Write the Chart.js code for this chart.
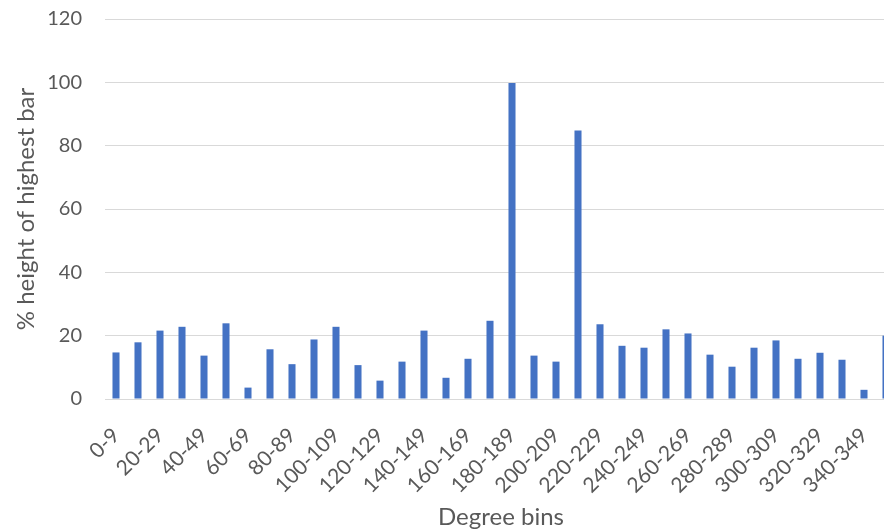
<!DOCTYPE html>
<html>
<head>
<meta charset="utf-8">
<script src="https://cdn.jsdelivr.net/npm/chart.js@4/dist/chart.umd.min.js"></script>
<style>
  html, body { margin: 0; padding: 0; overflow: hidden; background: #fff; }
  #wrap { width: 902px; height: 532px; position: relative; }
</style>
</head>
<body>
<div id="wrap"><canvas id="myChart"></canvas></div>
<script>
// degree bins, 10 degrees each
var binLabels = [
    '0-9', '10-19', '20-29', '30-39', '40-49', '50-59', '60-69', '70-79', '80-89', '90-99',
    '100-109', '110-119', '120-129', '130-139', '140-149', '150-159', '160-169', '170-179',
    '180-189', '190-199', '200-209', '210-219', '220-229', '230-239', '240-249', '250-259',
    '260-269', '270-279', '280-289', '290-299', '300-309', '310-319', '320-329', '330-339',
    '340-349', '350-359'
];
// % height of highest bar
var binValues = [
    14.7, 17.9, 21.6, 22.8, 13.7, 23.9, 3.6, 15.7, 11.0, 18.8,
    22.8, 10.7, 5.8, 11.8, 21.6, 6.7, 12.7, 24.7, 99.8, 13.7,
    11.8, 84.8, 23.6, 16.8, 16.2, 22.0, 20.7, 14.0, 10.2, 16.2,
    18.5, 12.7, 14.6, 12.4, 2.9, 20.0
];
var yTicks = [0, 20, 40, 60, 80, 100, 120];

var textColor = '#595959';
var gridColor = '#d9d9d9';
var fontFamily = 'Lato, "Open Sans", sans-serif';

// no extra room for tick labels, plot area is fixed below
function noPadding(scale) {
    scale.paddingTop = 0;
    scale.paddingBottom = 0;
    scale.paddingLeft = 0;
    scale.paddingRight = 0;
}

function drawChart() {
    var ctx = document.getElementById('myChart');

    new Chart(ctx, {
        type: 'bar',
        data: {
            labels: binLabels,
            datasets: [{
                label: 'Bins',
                data: binValues,
                backgroundColor: '#4472c4',
                borderWidth: 0,
                categoryPercentage: 1,
                barPercentage: 0.32
            }]
        },
        options: {
            responsive: true,
            maintainAspectRatio: false,
            animation: false,
            layout: { padding: { top: 19, right: 5, left: 0, bottom: 0 } },
            plugins: {
                legend: { display: false },
                tooltip: { enabled: false }
            },
            scales: {
                x: {
                    grid: { display: false, drawTicks: false },
                    border: { display: true, color: gridColor, width: 1 },
                    ticks: {
                        autoSkip: false,
                        minRotation: 45,
                        maxRotation: 45,
                        padding: 24,
                        color: textColor,
                        font: { family: fontFamily, size: 21 },
                        callback: function (val, i) {
                            return i % 2 === 0 ? binLabels[i] : '';
                        }
                    },
                    title: {
                        display: true,
                        text: 'Degree bins',
                        color: textColor,
                        font: { family: fontFamily, size: 24 },
                        padding: { top: 0, bottom: 0 }
                    },
                    afterFit: function (scale) {
                        scale.height = 133;
                        noPadding(scale);
                    }
                },
                y: {
                    min: 0,
                    max: 120,
                    afterBuildTicks: function (scale) {
                        scale.ticks = yTicks.map(function (v) { return { value: v }; });
                    },
                    grid: { color: gridColor, lineWidth: 1, drawTicks: false },
                    border: { display: false },
                    ticks: {
                        padding: 23,
                        color: textColor,
                        font: { family: fontFamily, size: 20 }
                    },
                    title: {
                        display: true,
                        text: '% height of highest bar',
                        color: textColor,
                        font: { family: fontFamily, size: 24 },
                        padding: { top: 12, bottom: 0 }
                    },
                    afterFit: function (scale) {
                        scale.width = 105;
                        noPadding(scale);
                    }
                }
            }
        }
    });
}

drawChart();
</script>
</body>
</html>
